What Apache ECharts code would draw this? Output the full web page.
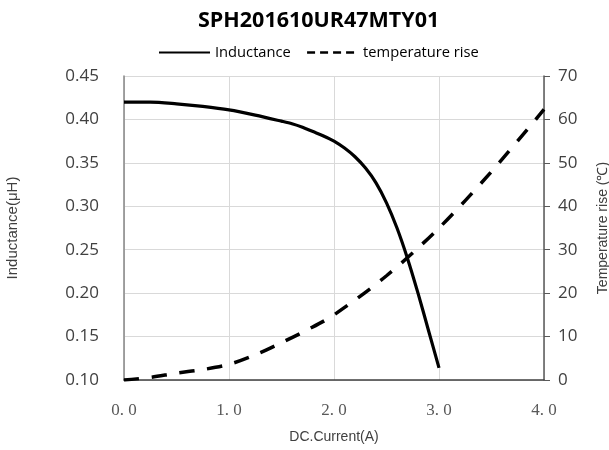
<!DOCTYPE html>
<html>
<head>
<meta charset="utf-8">
<script src="https://cdn.jsdelivr.net/npm/echarts@6/dist/echarts.min.js"></script>
<style>html,body{margin:0;padding:0;background:#fff;}#c{width:609px;height:450px;}</style>
</head>
<body>
<div id="c"></div>
<script>
var chartTitle = 'SPH201610UR47MTY01';
var seriesNames = ['Inductance', 'temperature rise'];
var xTicks = [0, 1, 2, 3, 4];
var indCurrent = [0, 0.25, 0.5, 0.75, 1.0, 1.25, 1.5, 1.6, 1.7, 1.8, 1.9, 2.0, 2.1, 2.2, 2.3, 2.4, 2.5, 2.6, 2.7, 2.8, 2.9, 3.0];
var inductance = [0.420, 0.420, 0.418, 0.415, 0.411, 0.405, 0.398, 0.395, 0.391, 0.386, 0.381, 0.375, 0.367, 0.357, 0.344, 0.327, 0.304, 0.275, 0.240, 0.200, 0.157, 0.114];
var tempCurrent = [0, 0.25, 0.5, 0.75, 1.0, 1.25, 1.5, 1.75, 2.0, 2.5, 3.0, 3.5, 4.0];
var temperature = [0, 0.6, 1.6, 2.4, 3.6, 5.8, 8.6, 11.6, 15, 24, 35, 48, 62.3];

function pairs(xs, ys) { return xs.map(function (x, i) { return [x, ys[i]]; }); }

var chart = echarts.init(document.getElementById('c'), null, { renderer: 'canvas' });
chart.setOption({
  animation: false,
  backgroundColor: '#fff',
  title: {
    text: chartTitle, left: 193, top: 5,
    textStyle: { fontFamily: 'Open Sans', fontWeight: 'bold', fontSize: 21.5, color: '#000' }
  },
  legend: {
    left: 153, top: 40, itemWidth: 51, itemHeight: 14, itemGap: 15,
    textStyle: { fontFamily: 'Open Sans', fontSize: 14.7, color: '#000' },
    data: [
      { name: seriesNames[0], itemStyle: { opacity: 0 }, lineStyle: { width: 2, color: '#000' } },
      { name: seriesNames[1], itemStyle: { opacity: 0 }, lineStyle: { width: 2.5, color: '#000', type: [8, 5] } }
    ]
  },
  grid: { left: 124, right: 65, top: 76, bottom: 70, outerBoundsMode: 'none', containLabel: false },
  xAxis: {
    type: 'value', min: 0, max: 4, interval: 1,
    name: 'DC.Current(A)', nameLocation: 'middle', nameGap: 50,
    nameTextStyle: { fontFamily: 'Liberation Sans', fontSize: 14, color: '#404040' },
    axisLine: { lineStyle: { color: '#404040', width: 1.5 } },
    axisTick: { show: false },
    axisLabel: {
      margin: 22, fontFamily: 'Liberation Serif', fontSize: 17, color: '#595959',
      formatter: function (v) { return v.toFixed(1).replace('.', '. '); }
    },
    splitLine: { show: true, lineStyle: { color: '#d9d9d9', width: 1 } }
  },
  yAxis: [
    {
      type: 'value', min: 0.1, max: 0.45, interval: 0.05,
      name: 'Inductance(μH)', nameLocation: 'middle', nameGap: 104, nameRotate: 90,
      nameTextStyle: { fontFamily: 'Liberation Sans', fontSize: 15, color: '#404040' },
      axisLine: { show: true, lineStyle: { color: '#868686', width: 1.5 } },
      axisTick: { show: false },
      axisLabel: {
        margin: 25, fontFamily: 'Open Sans', fontSize: 17, color: '#404040',
        formatter: function (v) { return v.toFixed(2); }
      },
      splitLine: { show: true, lineStyle: { color: '#d9d9d9', width: 1 } }
    },
    {
      type: 'value', min: 0, max: 70, interval: 10, position: 'right',
      name: 'Temperature rise (℃)', nameLocation: 'middle', nameGap: 52, nameRotate: 90,
      nameTextStyle: { fontFamily: 'Liberation Sans', fontSize: 14, color: '#404040' },
      axisLine: { show: true, lineStyle: { color: '#595959', width: 1.5 } },
      axisTick: { show: true, inside: false, length: 6, lineStyle: { color: '#595959', width: 1 } },
      axisLabel: { margin: 14, fontFamily: 'Open Sans', fontSize: 17, color: '#404040' },
      splitLine: { show: false }
    }
  ],
  series: [
    {
      name: seriesNames[0], type: 'line', yAxisIndex: 0, smooth: 0.3,
      symbol: 'none', data: pairs(indCurrent, inductance),
      lineStyle: { color: '#000', width: 3.2 }, itemStyle: { color: '#000' }
    },
    {
      name: seriesNames[1], type: 'line', yAxisIndex: 1, smooth: 0.3,
      symbol: 'none', data: pairs(tempCurrent, temperature),
      lineStyle: { color: '#000', width: 3.5, type: [15, 13] }, itemStyle: { color: '#000' }
    }
  ]
});
</script>
</body>
</html>
